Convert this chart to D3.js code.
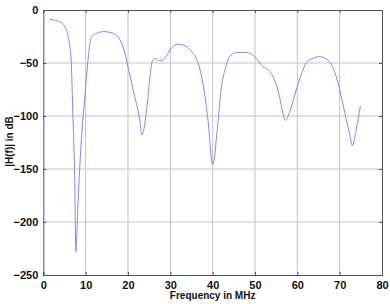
<!DOCTYPE html>
<html><head><meta charset="utf-8">
<script src="https://cdn.jsdelivr.net/npm/d3@7"></script>
<style>
body{margin:0;background:#fff;}
svg{display:block;}
text{font-family:"Liberation Sans",Arial,sans-serif;}
</style></head>
<body><svg id="c" width="390" height="304"></svg>
<script>
const freq = [1.4,2.5,3.9,5.1,5.9,6.3,6.6,7.0,7.4,7.7,8.1,8.5,9.4,9.8,10.6,11.4,12.6,14.2,16.5,18.1,19.3,20.0,21.6,22.8,23.3,24.4,25.2,25.7,26.3,27.5,28.7,29.9,31.5,33.0,35.0,36.6,37.7,38.9,40.0,41.3,42.1,42.9,44.0,45.6,48.0,49.9,51.9,53.5,54.6,55.8,56.6,57.2,58.2,59.4,60.5,62.1,63.7,65.3,67.6,69.2,70.4,71.6,72.3,73.0,73.9,74.9];
const magDb = [-8.5,-9.5,-11,-15.7,-25,-35,-49,-100,-155,-228,-192,-157,-100.6,-83,-45.6,-25,-22,-20.4,-22,-28,-41,-53.5,-81.8,-104,-118,-94,-63,-48.8,-45.6,-47.8,-45.6,-37.7,-32.4,-33,-39,-50.3,-69,-104,-146,-104,-72,-56.6,-44,-40,-40,-44,-53.5,-58,-66,-82,-97.5,-104,-96,-80,-66,-50,-45.6,-44,-48.8,-63,-82,-104,-116,-128,-113,-90.6];
const xTicks = [0,10,20,30,40,50,60,70,80];
const yTicks = [0,-50,-100,-150,-200,-250];

const svg = d3.select("#c");
const L=43.3, R=382, T=10, B=275;
const x = d3.scaleLinear().domain([0,80]).range([L,R]);
const y = d3.scaleLinear().domain([-250,0]).range([B,T]);

// grid
svg.append("g").selectAll("line").data(xTicks.slice(1,-1)).join("line")
  .attr("x1",d=>x(d)).attr("x2",d=>x(d)).attr("y1",T).attr("y2",B)
  .attr("stroke","#c4c4c4").attr("stroke-width",1);
svg.append("g").selectAll("line").data(yTicks.slice(1,-1)).join("line")
  .attr("y1",d=>y(d)).attr("y2",d=>y(d)).attr("x1",L).attr("x2",R)
  .attr("stroke","#c4c4c4").attr("stroke-width",1);

// axes
svg.append("g").attr("transform",`translate(0,${B})`)
  .call(d3.axisBottom(x).tickValues(xTicks).tickSize(-3).tickPadding(6));
svg.append("g").attr("transform",`translate(${L},0)`)
  .call(d3.axisLeft(y).tickValues(yTicks).tickSize(-3).tickPadding(5));
svg.append("g").attr("transform",`translate(0,${T})`)
  .call(d3.axisTop(x).tickValues(xTicks).tickSize(-3).tickFormat(""));
svg.append("g").attr("transform",`translate(${R},0)`)
  .call(d3.axisRight(y).tickValues(yTicks).tickSize(-3).tickFormat(""));
svg.selectAll(".domain").attr("stroke","#555");
svg.selectAll(".tick line").attr("stroke","#555");
svg.selectAll(".tick text").attr("font-size","11px").attr("font-weight","bold").attr("fill","#111");

// line
const line = d3.line().x((d,i)=>x(freq[i])).y(d=>y(d)).curve(d3.curveMonotoneX);
svg.append("path").datum(magDb).attr("d",line)
  .attr("fill","none").attr("stroke","#8585ff").attr("stroke-width",1);

svg.append("text").attr("x",(L+R)/2).attr("y",299).attr("text-anchor","middle")
  .attr("font-size","10px").attr("font-weight","bold").attr("fill","#111").text("Frequency in MHz");
svg.append("text").attr("transform",`translate(13,${(T+B)/2-1}) rotate(-90)`).attr("text-anchor","middle")
  .attr("font-size","10px").attr("font-weight","bold").attr("fill","#111").text("|H(f)| in dB");
</script></body></html>
